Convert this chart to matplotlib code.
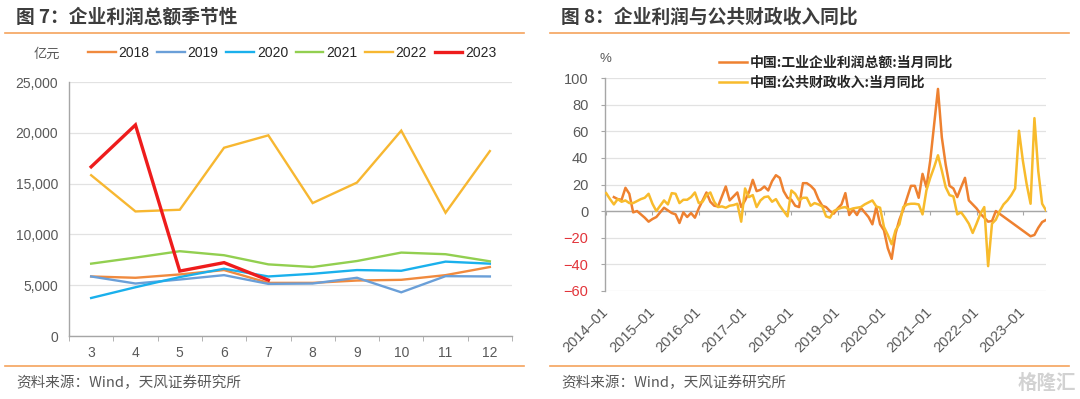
import matplotlib
matplotlib.use('Agg')
import matplotlib.pyplot as plt
import numpy as np
from matplotlib.lines import Line2D
from matplotlib.ticker import FuncFormatter

plt.rcParams['font.family'] = ['Noto Sans CJK SC', 'DejaVu Sans']

# ---------------- left chart data (亿元) ----------------
months = [3, 4, 5, 6, 7, 8, 9, 10, 11, 12]
month_labels = ['3', '4', '5', '6', '7', '8', '9', '10', '11', '12']
s2018 = [5860, 5730, 6060, 6490, 5230, 5230, 5460, 5530, 5990, 6790]
s2019 = [5860, 5165, 5560, 5990, 5130, 5165, 5730, 4300, 5890, 5860]
s2020 = [3740, 4800, 5800, 6620, 5860, 6125, 6490, 6420, 7320, 7120]
s2021 = [7120, 7715, 8345, 7950, 7050, 6790, 7380, 8210, 8050, 7350]
s2022 = [15825, 12260, 12425, 18530, 19750, 13085, 15100, 20215, 12130, 18200]
s2023 = [16650, 20775, 6390, 7220, 5500]
years = ['2018', '2019', '2020', '2021', '2022', '2023']

# ---------------- right chart data (%) ----------------
xtick_labels = ['2014–01', '2015–01', '2016–01', '2017–01', '2018–01',
                '2019–01', '2020–01', '2021–01', '2022–01', '2023–01']
profit_yoy = [None, None, 10.5, 9, 8.5, 17.5, 13, -1, 0, -2.5, -5, -8,
              -6, -4.5, -1, 2.5, 0.5, -1.5, -2.5, -9, -1, -4.5, -1.5, -5,
              2, 8, 14, 7, 4, 3.5, 11, 18.5, 8, 11, 14, 3,
              8, 14, 23.5, 15, 16, 18.5, 15.5, 22.5, 27, 25, 15, 10,
              8.5, 4, 3, 21, 21, 19, 16, 9, 4, 3, 0, -2,
              2, 5, 13.5, -3, 1, -3, 2.5, -1, -4.5, -10, 3, -10,
              -14.5, -28, -36, -17, -6.5, 1, 10, 19, 19, 10, 28, 18,
              38, 65, 92, 55.5, 35, 19, 17, 10.5, 18, 25, 8, 5,
              2, -2, -5, -8, -7.5, 0, None, None, None, None, None, None,
              None, None, -19, -18, -12.6, -8.3, -6.7]
fiscal_yoy = [13.5, 9, 5, 9, 7, 8, 6, 6, 7.5, 9, 10, 13,
              5.5, 0, 4, 8, 5, 13.5, 13, 6, 8.5, 8.5, 10.5, 14,
              6, 7, 12, 14, 7, 3, 3.5, 2.5, 4, 4.5, 5.5, -8,
              17, 10.5, 12, 3, 8, 10.5, 11, 7, 9, 4, 0, -4,
              15.5, 13, 8, 10, 10, 4, 6, 5, 3.5, -4, -5, 0,
              1.5, 2.5, 3, 1, 2, 2.5, 3, 5, 6.5, 8, 3.5, 2.5,
              -12, -18, -25, -14.5, -10, 3, 5, 5.5, 5.5, 5, -2.5, 15.5,
              25, 33, 42, 30.5, 18, 12, 11, -2.5, -1, -5, -9.5, -16.5,
              -9.5, -2, 3, -41.5, -9.5, -6.5, 0, 5, 8, 12, 17, 60.5,
              38, 20, 5.5, 70, 30, 5.5, 0.5]
series_names = ['中国:工业企业利润总额:当月同比', '中国:公共财政收入:当月同比']

W, H = 1080, 399
fig = plt.figure(figsize=(W / 100, H / 100), dpi=100)
fig.patch.set_facecolor('white')

def fx(px):
    return px / W

def fy(py):
    return 1 - py / H

GRAY_TXT = '#595959'
AX_COL = '#a6a6a6'
GRID_COL = '#e2e2e2'
NUMFONT = 'Liberation Sans'

# ---------------- left chart ----------------
ax1 = fig.add_axes([fx(69), fy(336), fx(512) - fx(69), fy(82) - fy(336)])
colors_l = ['#f08a3e', '#6a9fd8', '#1ab0ec', '#92cf50', '#f7b731', '#ee1c1c']
data_l = [s2018, s2019, s2020, s2021, s2022, s2023]
handles = []
for name, vals, c in zip(years, data_l, colors_l):
    lw = 2.4 if name == '2023' else 1.7
    h, = ax1.plot(months[:len(vals)], vals, color=c, lw=lw, solid_joinstyle='miter', zorder=3)
    handles.append(h)
ax1.set_xlim(2.5, 12.5)
ax1.set_ylim(0, 25000)
ax1.set_yticks(np.arange(0, 25001, 5000))
ax1.yaxis.set_major_formatter(FuncFormatter(lambda v, p: f'{int(v):,}'))
ax1.set_xticks(months)
ax1.set_xticklabels(month_labels)
ax1.set_xticks(np.arange(2.5, 12.6, 1), minor=True)
ax1.tick_params(axis='x', which='major', length=0, pad=7, labelsize=10,
                labelcolor=GRAY_TXT, labelfontfamily=NUMFONT)
ax1.tick_params(axis='x', which='minor', length=3.5, color=AX_COL, direction='out')
ax1.tick_params(axis='y', length=0, pad=8, labelsize=10, labelcolor=GRAY_TXT,
                labelfontfamily=NUMFONT)
for s in ['top', 'right']:
    ax1.spines[s].set_visible(False)
for s in ['left', 'bottom']:
    ax1.spines[s].set_color(AX_COL)
    ax1.spines[s].set_linewidth(1.0)
ax1.yaxis.grid(True, color=GRID_COL, lw=0.9)
ax1.set_axisbelow(True)

fig.legend(handles, years, loc='center left', bbox_to_anchor=(fx(88), fy(53)),
           ncol=6, frameon=False, prop={'family': NUMFONT, 'size': 10},
           handlelength=2.0, handletextpad=0.2, columnspacing=0.55,
           borderpad=0, borderaxespad=0, labelcolor='#262626')
fig.text(fx(34), fy(54), '亿元', fontsize=9.5, color=GRAY_TXT, va='center', ha='left')

# ---------------- right chart ----------------
ax2 = fig.add_axes([fx(605), fy(290.7), fx(1046) - fx(605), fy(78.3) - fy(290.7)])
xr = np.arange(len(fiscal_yoy))
pv = np.array([np.nan if v is None else v for v in profit_yoy], dtype=float)
mask = ~np.isnan(pv)
c_profit = '#ee8130'
c_fiscal = '#f8bb2c'
h1, = ax2.plot(xr[mask], pv[mask], color=c_profit, lw=1.8, zorder=3)
h2, = ax2.plot(xr, fiscal_yoy, color=c_fiscal, lw=1.8, zorder=4)
ax2.set_xlim(-0.3, 114)
ax2.set_ylim(-60, 100)
ax2.set_yticks(np.arange(-60, 101, 20))
ax2.set_yticklabels([str(v).replace('-', '−') for v in range(-60, 101, 20)])
for lbl, v in zip(ax2.get_yticklabels(), range(-60, 101, 20)):
    lbl.set_color('#e2343a' if v < 0 else GRAY_TXT)
ax2.tick_params(axis='y', length=3, color=AX_COL, direction='out', pad=9,
                labelsize=10.5, labelfontfamily=NUMFONT)
ax2.spines['bottom'].set_position(('data', 0))
ax2.set_xticks(np.arange(0, 109, 12))
ax2.set_xticklabels(xtick_labels, rotation=45, ha='right', va='center',
                    rotation_mode='anchor')
ax2.tick_params(axis='x', length=3, color=AX_COL, direction='out', pad=68,
                labelsize=10.5, labelcolor=GRAY_TXT, labelfontfamily=NUMFONT)
for s in ['top', 'right']:
    ax2.spines[s].set_visible(False)
for s in ['left', 'bottom']:
    ax2.spines[s].set_color(AX_COL)
    ax2.spines[s].set_linewidth(1.0)
ax2.yaxis.grid(True, color=GRID_COL, lw=0.9)
ax2.set_axisbelow(True)
fig.text(fx(599), fy(59), '%', fontsize=9.5, color=GRAY_TXT, va='center', ha='left',
         family=NUMFONT)
fig.legend([h1, h2], series_names, loc='upper left', bbox_to_anchor=(fx(719), fy(56)),
           frameon=False, prop={'size': 10, 'weight': 'bold'},
           handlelength=2.0, handletextpad=0.25, labelspacing=0.42,
           borderpad=0, borderaxespad=0, labelcolor='#262626')

# ---------------- titles, rules, sources ----------------
title_col = '#3d3d3d'
fig.text(fx(16), fy(17), '图 7：企业利润总额季节性', fontsize=13.5, weight='bold',
         color=title_col, va='center', ha='left')
fig.text(fx(561), fy(17), '图 8：企业利润与公共财政收入同比', fontsize=13.5, weight='bold',
         color=title_col, va='center', ha='left')
rule_col = '#f5a35c'
for x0, x1 in [(5, 524), (549.5, 1068.5)]:
    for yy in [32.5, 366]:
        fig.add_artist(Line2D([fx(x0), fx(x1)], [fy(yy), fy(yy)], color=rule_col, lw=1.2))
src = '资料来源：Wind，天风证券研究所'
fig.text(fx(16), fy(383), src, fontsize=10.5, color=GRAY_TXT, va='center', ha='left')
fig.text(fx(561), fy(383), src, fontsize=10.5, color=GRAY_TXT, va='center', ha='left')
fig.text(fx(1076), fy(383), '格隆汇', fontsize=14, color='#d2d2d2', va='center',
         ha='right', weight='bold')

fig.savefig('out.png', dpi=100, facecolor='white')
